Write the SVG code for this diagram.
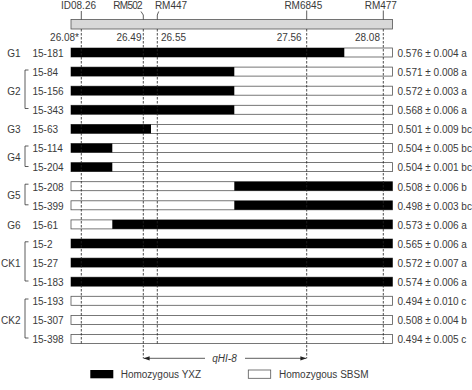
<svg xmlns="http://www.w3.org/2000/svg" width="472" height="390" viewBox="0 0 472 390">
<defs>
<style>
text{font-family:"Liberation Sans",Arial,sans-serif;font-size:10px;fill:#3a3a3a}
.end{text-anchor:end}
.mid{text-anchor:middle}
.bar{fill:#fff;stroke:#555;stroke-width:0.8}
.blk{fill:#000}
.dash{stroke:#222;stroke-width:0.8;stroke-dasharray:2.5,1.5;fill:none}
.ln{stroke:#333;stroke-width:0.8;fill:none}
</style>
<marker id="ah" viewBox="0 0 10 10" refX="10" refY="5" markerWidth="6" markerHeight="6" markerUnits="userSpaceOnUse" orient="auto-start-reverse">
<path d="M0,1.5 L10,5 L0,8.5 z" fill="#222"/>
</marker>
</defs>
<rect width="472" height="390" fill="#fff"/>

<g id="chromosome">
<rect x="71" y="19.5" width="321.5" height="9.5" fill="#d8d8d8" stroke="#555" stroke-width="0.8"/>
<text x="78.5" y="9" class="mid">ID08.26</text>
<text x="142" y="9" class="end" letter-spacing="-0.7">RM502</text>
<text x="171" y="9" class="mid">RM447</text>
<text x="303.3" y="9" class="mid">RM6845</text>
<text x="380.8" y="9" class="mid">RM477</text>
<polyline class="ln" points="81.3,11 81.3,19.5"/>
<polyline class="ln" points="141,11.5 143.3,15 143.3,19.5"/>
<polyline class="ln" points="158.7,11.5 157.3,15 157.3,19.5"/>
<polyline class="ln" points="306.7,10.5 306.7,19.5"/>
<polyline class="ln" points="383.3,10.5 383.3,19.5"/>
<text x="79" y="40.5" class="end">26.08*</text>
<text x="141.5" y="40.5" class="end">26.49</text>
<text x="161" y="40.5">26.55</text>
<text x="301.7" y="40.5" class="end">27.56</text>
<text x="380" y="40.5" class="end">28.08</text>
</g>

<g id="rows">
<g id="r15-181"><rect class="bar" x="71" y="48" width="321.5" height="9"/><rect class="blk" x="71" y="48" width="273.3" height="9"/><text x="32.5" y="56.8">15-181</text><text x="397.5" y="56.8">0.576 ± 0.004 a</text></g>
<g id="r15-84"><rect class="bar" x="71" y="67.1" width="321.5" height="9"/><rect class="blk" x="71" y="67.1" width="163.3" height="9"/><text x="32.5" y="75.9">15-84</text><text x="397.5" y="75.9">0.571 ± 0.008 a</text></g>
<g id="r15-156"><rect class="bar" x="71" y="86.2" width="321.5" height="9"/><rect class="blk" x="71" y="86.2" width="163.3" height="9"/><text x="32.5" y="95">15-156</text><text x="397.5" y="95">0.572 ± 0.003 a</text></g>
<g id="r15-343"><rect class="bar" x="71" y="105.3" width="321.5" height="9"/><rect class="blk" x="71" y="105.3" width="163.3" height="9"/><text x="32.5" y="114.1">15-343</text><text x="397.5" y="114.1">0.568 ± 0.006 a</text></g>
<g id="r15-63"><rect class="bar" x="71" y="124.4" width="321.5" height="9"/><rect class="blk" x="71" y="124.4" width="80" height="9"/><text x="32.5" y="133.2">15-63</text><text x="397.5" y="133.2">0.501 ± 0.009 bc</text></g>
<g id="r15-114"><rect class="bar" x="71" y="143.5" width="321.5" height="9"/><rect class="blk" x="71" y="143.5" width="41.3" height="9"/><text x="32.5" y="152.3">15-114</text><text x="397.5" y="152.3">0.504 ± 0.005 bc</text></g>
<g id="r15-204"><rect class="bar" x="71" y="162.6" width="321.5" height="9"/><rect class="blk" x="71" y="162.6" width="41.3" height="9"/><text x="32.5" y="171.4">15-204</text><text x="397.5" y="171.4">0.504 ± 0.001 bc</text></g>
<g id="r15-208"><rect class="bar" x="71" y="181.7" width="321.5" height="9"/><rect class="blk" x="234.3" y="181.7" width="158.2" height="9"/><text x="32.5" y="190.5">15-208</text><text x="397.5" y="190.5">0.508 ± 0.006 b</text></g>
<g id="r15-399"><rect class="bar" x="71" y="200.8" width="321.5" height="9"/><rect class="blk" x="234.3" y="200.8" width="158.2" height="9"/><text x="32.5" y="209.6">15-399</text><text x="397.5" y="209.6">0.498 ± 0.003 bc</text></g>
<g id="r15-61"><rect class="bar" x="71" y="219.9" width="321.5" height="9"/><rect class="blk" x="112.3" y="219.9" width="280.2" height="9"/><text x="32.5" y="228.7">15-61</text><text x="397.5" y="228.7">0.573 ± 0.006 a</text></g>
<g id="r15-2"><rect class="bar" x="71" y="239" width="321.5" height="9"/><rect class="blk" x="71" y="239" width="321.5" height="9"/><text x="32.5" y="247.8">15-2</text><text x="397.5" y="247.8">0.565 ± 0.006 a</text></g>
<g id="r15-27"><rect class="bar" x="71" y="258.1" width="321.5" height="9"/><rect class="blk" x="71" y="258.1" width="321.5" height="9"/><text x="32.5" y="266.9">15-27</text><text x="397.5" y="266.9">0.572 ± 0.007 a</text></g>
<g id="r15-183"><rect class="bar" x="71" y="277.2" width="321.5" height="9"/><rect class="blk" x="71" y="277.2" width="321.5" height="9"/><text x="32.5" y="286">15-183</text><text x="397.5" y="286">0.574 ± 0.006 a</text></g>
<g id="r15-193"><rect class="bar" x="71" y="296.3" width="321.5" height="9"/><text x="32.5" y="305.1">15-193</text><text x="397.5" y="305.1">0.494 ± 0.010 c</text></g>
<g id="r15-307"><rect class="bar" x="71" y="315.4" width="321.5" height="9"/><text x="32.5" y="324.2">15-307</text><text x="397.5" y="324.2">0.508 ± 0.004 b</text></g>
<g id="r15-398"><rect class="bar" x="71" y="334.5" width="321.5" height="9"/><text x="32.5" y="343.3">15-398</text><text x="397.5" y="343.3">0.494 ± 0.005 c</text></g>
</g>

<g id="groups">
<text x="20.5" y="56.8" class="end">G1</text>
<text x="20.5" y="95" class="end">G2</text>
<polyline class="ln" points="28.5,70 25,70 25,108.5 28.5,108.5"/>
<text x="20.5" y="133.2" class="end">G3</text>
<text x="20.5" y="160.5" class="end">G4</text>
<polyline class="ln" points="28.5,146 25,146 25,166.5 28.5,166.5"/>
<text x="20.5" y="198.5" class="end">G5</text>
<polyline class="ln" points="28.5,184.2 25,184.2 25,204.8 28.5,204.8"/>
<text x="20.5" y="228.7" class="end">G6</text>
<text x="20.5" y="266.9" class="end">CK1</text>
<polyline class="ln" points="28.5,241.8 25,241.8 25,281 28.5,281"/>
<text x="20.5" y="324.2" class="end">CK2</text>
<polyline class="ln" points="28.5,299 25,299 25,338 28.5,338"/>
</g>

<g id="connectors">
<line class="dash" x1="81.3" y1="29" x2="81.3" y2="345"/>
<line class="dash" x1="143.3" y1="29" x2="143.3" y2="358.3"/>
<line class="dash" x1="157.3" y1="29" x2="157.3" y2="345"/>
<line class="dash" x1="306.7" y1="29" x2="306.7" y2="358.3"/>
<line class="dash" x1="383.3" y1="29" x2="383.3" y2="345"/>
<line class="ln" x1="205" y1="358.3" x2="143.6" y2="358.3" marker-end="url(#ah)"/>
<line class="ln" x1="245" y1="358.3" x2="306.4" y2="358.3" marker-end="url(#ah)"/>
<text x="224.5" y="362" class="mid" font-style="italic">qHI-8</text>
</g>

<g id="legend">
<rect x="90.3" y="370" width="23" height="8.3" fill="#000"/>
<text x="120.7" y="377.8">Homozygous YXZ</text>
<rect x="248.3" y="370" width="22.4" height="8.3" class="bar"/>
<text x="279" y="377.8">Homozygous SBSM</text>
</g>
</svg>
